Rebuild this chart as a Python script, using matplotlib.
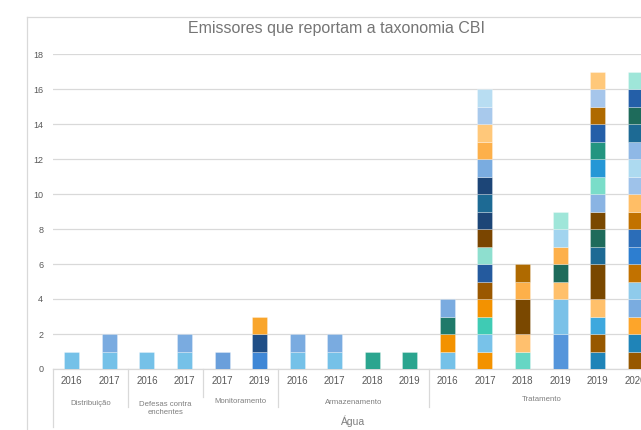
import matplotlib
matplotlib.use("Agg")
import matplotlib.pyplot as plt
from matplotlib.lines import Line2D
from matplotlib.transforms import blended_transform_factory

plt.rcParams['font.family'] = ['Liberation Sans', 'DejaVu Sans']

# ---------------- data ----------------
title = "Emissores que reportam a taxonomia CBI"
top_group = "Água"
groups = ["Distribuição", "Defesas contra\nenchentes", "Monitoramento", "Armazenamento", "Tratamento"]
group_sizes = [2, 2, 2, 4, 6]
years = ["2016", "2017", "2016", "2017", "2017", "2019", "2016", "2017",
         "2018", "2019", "2016", "2017", "2018", "2019", "2019", "2020"]
y_ticks = [0, 2, 4, 6, 8, 10, 12, 14, 16, 18]

# stacked segment heights per bar (bottom to top), each segment = one issuer
segments = [
    [1],
    [1, 1],
    [1],
    [1, 1],
    [1],
    [1, 1, 1],
    [1, 1],
    [1, 1],
    [1],
    [1],
    [1, 1, 1, 1],
    [1] * 16,
    [1, 1, 2, 1, 1],
    [2, 2, 1, 1, 1, 1, 1],
    [1, 1, 1, 1, 2, 1, 1, 1, 1, 1, 1, 1, 1, 1, 1, 1],
    [1] * 17,
]

# ---------------- styles ----------------
segment_colors = [
    ['#75C1E8'],
    ['#75C1E8', '#7AABE0'],
    ['#75C1E8'],
    ['#75C1E8', '#7AABE0'],
    ['#6A9FDB'],
    ['#3F87D6', '#1F4E86', '#F9A52B'],
    ['#75C1E8', '#7AABE0'],
    ['#75C1E8', '#7AABE0'],
    ['#2BA58F'],
    ['#2BA58F'],
    ['#75C1E8', '#F39200', '#1F7A6A', '#7AABE0'],
    ['#F39200', '#78C2E9', '#3FCBB4', '#F39200', '#9A5800', '#245A9E', '#8EDFCF', '#7A4500',
     '#1C4577', '#1D6A94', '#1C4577', '#7AACE0', '#FDB04A', '#FFC87A', '#A8C9EC', '#B8DDF2'],
    ['#66D6C4', '#FFC06E', '#7A4800', '#FDB04A', '#AF6A00'],
    ['#5595DB', '#7AC1E8', '#FFC06B', '#1E6B5B', '#FDB04A', '#A2D4EF', '#9FE6D9'],
    ['#1F84B8', '#975800', '#3EA8DE', '#FFC06B', '#7A4800', '#1D6A94', '#1E6B5B', '#7A4800',
     '#8AB4E3', '#7ADDC9', '#2597D6', '#239580', '#245FA8', '#AF6A00', '#A6C6EB', '#FFC87A'],
    ['#975800', '#1F84B8', '#FDA52A', '#7AACE0', '#8FCBEB', '#C27200', '#2D7ED0', '#2B6DB8',
     '#C27200', '#FFBE66', '#9EC2EA', '#ADDAF0', '#8FB8E6', '#1D6A94', '#1E6B5B', '#245FA8', '#9FE6D9'],
]

W, H = 641, 430
fig = plt.figure(figsize=(W / 100, H / 100), dpi=100)

def fx(px):
    return px / W

def fy(py):
    return 1 - py / H

grid_c = '#D9D9D9'
text_c = '#595959'

# chart frame (partially visible)
fig.add_artist(Line2D([fx(26.5), fx(26.5)], [fy(16.5), 0], color=grid_c, lw=0.9))
fig.add_artist(Line2D([fx(26.5), 1.0], [fy(16.5), fy(16.5)], color=grid_c, lw=0.9))

ax_left, ax_right = 53, 654
ax = fig.add_axes([fx(ax_left), fy(369), fx(ax_right - ax_left), (369 - 54) / H])
ax.set_xlim(-0.5, len(years) - 0.5)
ax.set_ylim(0, 18)

for i, (hs, cs) in enumerate(zip(segments, segment_colors)):
    bottom = 0
    for h, c in zip(hs, cs):
        ax.bar(i, h, bottom=bottom, width=0.4, color=c,
               edgecolor=(1, 1, 1, 0.5), linewidth=0.4, zorder=3)
        bottom += h

ax.set_yticks(y_ticks)
ax.set_yticklabels([str(v) for v in y_ticks], fontsize=6.5, color=text_c)
ax.tick_params(axis='y', length=0, pad=7)
ax.yaxis.grid(True, color=grid_c, lw=0.9)
ax.set_axisbelow(True)
for s in ['top', 'right', 'left']:
    ax.spines[s].set_visible(False)
ax.spines['bottom'].set_color(grid_c)
ax.spines['bottom'].set_linewidth(0.9)
ax.set_xticks([])

tr = blended_transform_factory(ax.transData, fig.transFigure)

# year labels
for i, yr in enumerate(years):
    ax.text(i, fy(381.5), yr, transform=tr, ha='center', va='center',
            fontsize=7, color=text_c, clip_on=False)

# group labels and separators
group_label_y = [403.3, 408.3, 401.7, 402.7, 399.3]
sep_bottom = [407, 397, 407, 407, 407]
start = 0
for gi, (g, n) in enumerate(zip(groups, group_sizes)):
    center = start + (n - 1) / 2
    ax.text(center, fy(group_label_y[gi]), g, transform=tr, ha='center', va='center',
            fontsize=5.6, color='#7F7F7F', linespacing=1.3, clip_on=False)
    if gi > 0:
        ax.add_artist(Line2D([start - 0.5, start - 0.5], [fy(369), fy(sep_bottom[gi - 1])],
                             transform=tr, color=grid_c, lw=0.9, clip_on=False))
    start += n

# outer left separator
ax.add_artist(Line2D([-0.5, -0.5], [fy(369), fy(427)], transform=tr,
                     color=grid_c, lw=0.9, clip_on=False))

ax.text((len(years) - 1) / 2, fy(421), top_group, transform=tr, ha='center', va='center',
        fontsize=7.5, color='#7F7F7F', clip_on=False)

fig.text(fx(337), fy(28.6), title, ha='center', va='center', fontsize=11.5, color='#757575')

fig.savefig("out.png", dpi=100)
